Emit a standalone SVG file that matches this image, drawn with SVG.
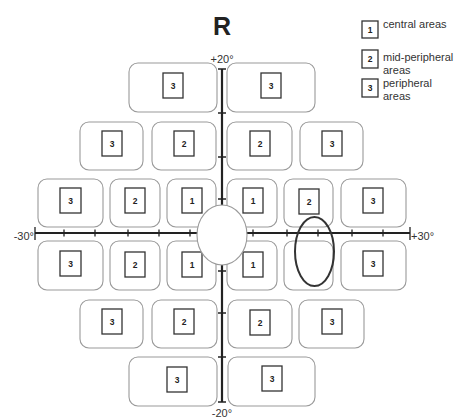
<svg xmlns="http://www.w3.org/2000/svg" width="456" height="418" viewBox="0 0 456 418">
<style>
.box{fill:#fff;stroke:#9a9a9a;stroke-width:1.1}
.sq{fill:#fff;stroke:#333;stroke-width:1.3}
.num{font-family:"Liberation Sans",Arial,sans-serif;font-weight:bold;font-size:8.5px;fill:#222;text-anchor:middle}
.lbl{font-family:"Liberation Sans",Arial,sans-serif;font-size:11px;fill:#333}
.axis{stroke:#222;stroke-width:2.2;fill:none}
.tick{stroke:#222;stroke-width:1.3;fill:none}
</style>
<rect width="456" height="418" fill="#fff"/>
<text x="222" y="35" font-family="Liberation Sans,Arial,sans-serif" font-weight="bold" font-size="25" text-anchor="middle" fill="#222">R</text>

<g id="legend">
<rect class="sq" x="362" y="21" width="16" height="17"/><text class="num" x="370" y="32.5">1</text>
<text class="lbl" x="383" y="28">central areas</text>
<rect class="sq" x="362" y="50" width="16" height="18"/><text class="num" x="370" y="62">2</text>
<text class="lbl" x="383" y="61">mid-peripheral</text><text class="lbl" x="383" y="74">areas</text>
<rect class="sq" x="362" y="79" width="16" height="18"/><text class="num" x="370" y="91">3</text>
<text class="lbl" x="383" y="87">peripheral</text><text class="lbl" x="383" y="100">areas</text>
</g>

<g id="r1c1"><rect class="box" x="129" y="63" width="88" height="49" rx="9"/><rect class="sq" x="163" y="73" width="20" height="25"/><text class="num" x="173" y="88.5">3</text></g>
<g id="r1c2"><rect class="box" x="227" y="63" width="88" height="49" rx="9"/><rect class="sq" x="261" y="73" width="20" height="25"/><text class="num" x="271" y="88.5">3</text></g>

<g id="r2c1"><rect class="box" x="80" y="122" width="63" height="48" rx="9"/><rect class="sq" x="102" y="131" width="20" height="25"/><text class="num" x="112" y="146.5">3</text></g>
<g id="r2c2"><rect class="box" x="152" y="122" width="64" height="48" rx="9"/><rect class="sq" x="174" y="131" width="20" height="25"/><text class="num" x="184" y="146.5">2</text></g>
<g id="r2c3"><rect class="box" x="227" y="122" width="65" height="48" rx="9"/><rect class="sq" x="250" y="131" width="20" height="25"/><text class="num" x="260" y="146.5">2</text></g>
<g id="r2c4"><rect class="box" x="300" y="122" width="63" height="48" rx="9"/><rect class="sq" x="322" y="131" width="20" height="25"/><text class="num" x="332" y="146.5">3</text></g>

<g id="r3c1"><rect class="box" x="38" y="179" width="65" height="48" rx="9"/><rect class="sq" x="60" y="188" width="21" height="25"/><text class="num" x="70.5" y="203.5">3</text></g>
<g id="r3c2"><rect class="box" x="110" y="179" width="50" height="48" rx="9"/><rect class="sq" x="125" y="188" width="20" height="25"/><text class="num" x="135" y="203.5">2</text></g>
<g id="r3c3"><rect class="box" x="167" y="179" width="49" height="48" rx="9"/><rect class="sq" x="182" y="188" width="20" height="25"/><text class="num" x="192" y="203.5">1</text></g>
<g id="r3c4"><rect class="box" x="227" y="179" width="50" height="48" rx="9"/><rect class="sq" x="243" y="188" width="20" height="25"/><text class="num" x="253" y="203.5">1</text></g>
<g id="r3c5"><rect class="box" x="284" y="179" width="49" height="48" rx="9"/><rect class="sq" x="299" y="189" width="20" height="25"/><text class="num" x="309" y="204.5">2</text></g>
<g id="r3c6"><rect class="box" x="341" y="179" width="65" height="48" rx="9"/><rect class="sq" x="363" y="188" width="20" height="25"/><text class="num" x="373" y="203.5">3</text></g>

<g id="r4c1"><rect class="box" x="38" y="241" width="65" height="49" rx="9"/><rect class="sq" x="60" y="251" width="21" height="25"/><text class="num" x="70.5" y="266.5">3</text></g>
<g id="r4c2"><rect class="box" x="110" y="241" width="50" height="49" rx="9"/><rect class="sq" x="125" y="252" width="20" height="25"/><text class="num" x="135" y="267.5">2</text></g>
<g id="r4c3"><rect class="box" x="167" y="241" width="49" height="49" rx="9"/><rect class="sq" x="182" y="252" width="20" height="25"/><text class="num" x="192" y="267.5">1</text></g>
<g id="r4c4"><rect class="box" x="227" y="241" width="50" height="49" rx="9"/><rect class="sq" x="243" y="252" width="20" height="25"/><text class="num" x="253" y="267.5">1</text></g>
<g id="r4c5"><rect class="box" x="284" y="241" width="49" height="49" rx="9"/></g>
<g id="r4c6"><rect class="box" x="341" y="241" width="65" height="49" rx="9"/><rect class="sq" x="363" y="251" width="20" height="25"/><text class="num" x="373" y="266.5">3</text></g>

<g id="r5c1"><rect class="box" x="80" y="300" width="63" height="48" rx="9"/><rect class="sq" x="102" y="309" width="20" height="25"/><text class="num" x="112" y="324.5">3</text></g>
<g id="r5c2"><rect class="box" x="152" y="300" width="65" height="48" rx="9"/><rect class="sq" x="174" y="309" width="20" height="25"/><text class="num" x="184" y="324.5">2</text></g>
<g id="r5c3"><rect class="box" x="228" y="300" width="64" height="48" rx="9"/><rect class="sq" x="250" y="310" width="20" height="25"/><text class="num" x="260" y="325.5">2</text></g>
<g id="r5c4"><rect class="box" x="299" y="300" width="65" height="48" rx="9"/><rect class="sq" x="322" y="309" width="20" height="25"/><text class="num" x="332" y="324.5">3</text></g>

<g id="r6c1"><rect class="box" x="129" y="357" width="88" height="49" rx="9"/><rect class="sq" x="167" y="367" width="20" height="25"/><text class="num" x="177" y="382.5">3</text></g>
<g id="r6c2"><rect class="box" x="228" y="357" width="87" height="49" rx="9"/><rect class="sq" x="262" y="366" width="20" height="25"/><text class="num" x="272" y="381.5">3</text></g>

<g id="axes">
<line class="axis" x1="222" y1="69" x2="222" y2="402"/>
<line class="axis" x1="35" y1="233" x2="410" y2="233"/>
<path class="tick" d="M218 69H226M218 113H226M218 157H226M218 199H226M218 271H226M218 313H226M218 357H226M218 402H226"/>
<path class="tick" d="M35 227V240M64 229.5V236.5M95 229.5V236.5M128 229.5V236.5M159 229.5V236.5M190 229.5V236.5M253 229.5V236.5M287 229.5V236.5M318 229.5V236.5M352 229.5V236.5M383 229.5V236.5M410 227V240"/>
</g>

<ellipse id="center" cx="222" cy="235" rx="25" ry="30" fill="#fff" stroke="#9a9a9a" stroke-width="1.1"/>
<ellipse id="blindspot" cx="314.5" cy="251.5" rx="19.5" ry="34.5" fill="none" stroke="#333" stroke-width="2"/>

<text class="lbl" x="222" y="63" text-anchor="middle">+20°</text>
<text class="lbl" x="222" y="417" text-anchor="middle">-20°</text>
<text class="lbl" x="34" y="240" text-anchor="end">-30°</text>
<text class="lbl" x="411" y="240">+30°</text>
</svg>
